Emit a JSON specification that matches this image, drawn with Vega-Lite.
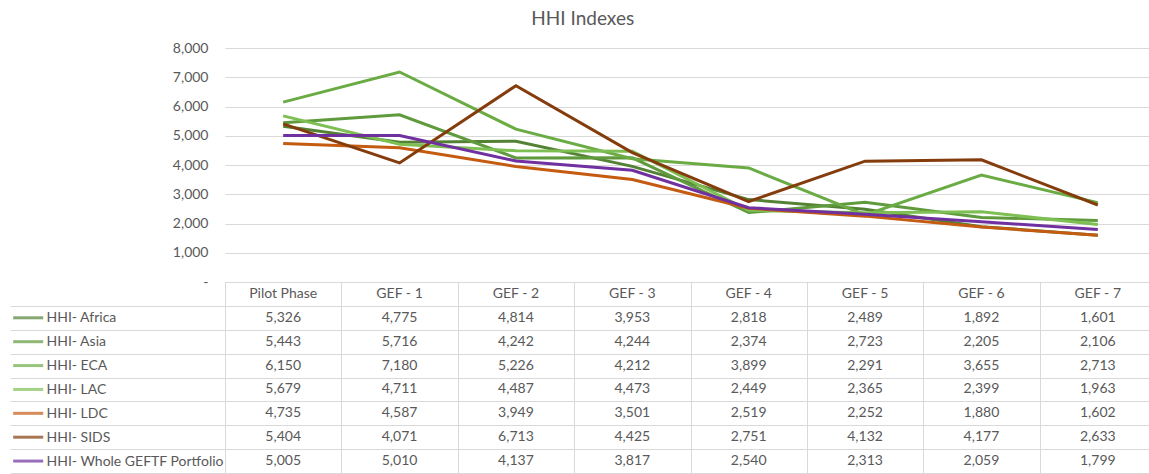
{
  "$schema": "https://vega.github.io/schema/vega-lite/v6.json",
  "padding": {"left": 9, "top": 10, "right": 0, "bottom": 0},
  "title": {"text": "HHI Indexes", "font": "Lato", "fontSize": 19, "fontWeight": "normal", "color": "#595959", "anchor": "middle", "frame": "bounds", "offset": 12},
  "config": {"view": {"stroke": null}, "font": "Lato"},
  "bounds": "flush",
  "spacing": 0,
  "resolve": {"scale": {"x": "independent", "y": "independent", "color": "shared"}},
  "datasets": {
    "hhi": [
      {"series": "HHI- Africa", "phase": "Pilot Phase", "value": 5326},
      {"series": "HHI- Africa", "phase": "GEF - 1", "value": 4775},
      {"series": "HHI- Africa", "phase": "GEF - 2", "value": 4814},
      {"series": "HHI- Africa", "phase": "GEF - 3", "value": 3953},
      {"series": "HHI- Africa", "phase": "GEF - 4", "value": 2818},
      {"series": "HHI- Africa", "phase": "GEF - 5", "value": 2489},
      {"series": "HHI- Africa", "phase": "GEF - 6", "value": 1892},
      {"series": "HHI- Africa", "phase": "GEF - 7", "value": 1601},
      {"series": "HHI- Asia", "phase": "Pilot Phase", "value": 5443},
      {"series": "HHI- Asia", "phase": "GEF - 1", "value": 5716},
      {"series": "HHI- Asia", "phase": "GEF - 2", "value": 4242},
      {"series": "HHI- Asia", "phase": "GEF - 3", "value": 4244},
      {"series": "HHI- Asia", "phase": "GEF - 4", "value": 2374},
      {"series": "HHI- Asia", "phase": "GEF - 5", "value": 2723},
      {"series": "HHI- Asia", "phase": "GEF - 6", "value": 2205},
      {"series": "HHI- Asia", "phase": "GEF - 7", "value": 2106},
      {"series": "HHI- ECA", "phase": "Pilot Phase", "value": 6150},
      {"series": "HHI- ECA", "phase": "GEF - 1", "value": 7180},
      {"series": "HHI- ECA", "phase": "GEF - 2", "value": 5226},
      {"series": "HHI- ECA", "phase": "GEF - 3", "value": 4212},
      {"series": "HHI- ECA", "phase": "GEF - 4", "value": 3899},
      {"series": "HHI- ECA", "phase": "GEF - 5", "value": 2291},
      {"series": "HHI- ECA", "phase": "GEF - 6", "value": 3655},
      {"series": "HHI- ECA", "phase": "GEF - 7", "value": 2713},
      {"series": "HHI- LAC", "phase": "Pilot Phase", "value": 5679},
      {"series": "HHI- LAC", "phase": "GEF - 1", "value": 4711},
      {"series": "HHI- LAC", "phase": "GEF - 2", "value": 4487},
      {"series": "HHI- LAC", "phase": "GEF - 3", "value": 4473},
      {"series": "HHI- LAC", "phase": "GEF - 4", "value": 2449},
      {"series": "HHI- LAC", "phase": "GEF - 5", "value": 2365},
      {"series": "HHI- LAC", "phase": "GEF - 6", "value": 2399},
      {"series": "HHI- LAC", "phase": "GEF - 7", "value": 1963},
      {"series": "HHI- LDC", "phase": "Pilot Phase", "value": 4735},
      {"series": "HHI- LDC", "phase": "GEF - 1", "value": 4587},
      {"series": "HHI- LDC", "phase": "GEF - 2", "value": 3949},
      {"series": "HHI- LDC", "phase": "GEF - 3", "value": 3501},
      {"series": "HHI- LDC", "phase": "GEF - 4", "value": 2519},
      {"series": "HHI- LDC", "phase": "GEF - 5", "value": 2252},
      {"series": "HHI- LDC", "phase": "GEF - 6", "value": 1880},
      {"series": "HHI- LDC", "phase": "GEF - 7", "value": 1602},
      {"series": "HHI- SIDS", "phase": "Pilot Phase", "value": 5404},
      {"series": "HHI- SIDS", "phase": "GEF - 1", "value": 4071},
      {"series": "HHI- SIDS", "phase": "GEF - 2", "value": 6713},
      {"series": "HHI- SIDS", "phase": "GEF - 3", "value": 4425},
      {"series": "HHI- SIDS", "phase": "GEF - 4", "value": 2751},
      {"series": "HHI- SIDS", "phase": "GEF - 5", "value": 4132},
      {"series": "HHI- SIDS", "phase": "GEF - 6", "value": 4177},
      {"series": "HHI- SIDS", "phase": "GEF - 7", "value": 2633},
      {"series": "HHI- Whole GEFTF Portfolio", "phase": "Pilot Phase", "value": 5005},
      {"series": "HHI- Whole GEFTF Portfolio", "phase": "GEF - 1", "value": 5010},
      {"series": "HHI- Whole GEFTF Portfolio", "phase": "GEF - 2", "value": 4137},
      {"series": "HHI- Whole GEFTF Portfolio", "phase": "GEF - 3", "value": 3817},
      {"series": "HHI- Whole GEFTF Portfolio", "phase": "GEF - 4", "value": 2540},
      {"series": "HHI- Whole GEFTF Portfolio", "phase": "GEF - 5", "value": 2313},
      {"series": "HHI- Whole GEFTF Portfolio", "phase": "GEF - 6", "value": 2059},
      {"series": "HHI- Whole GEFTF Portfolio", "phase": "GEF - 7", "value": 1799}
    ]
  },
  "vconcat": [
    {
      "width": 925,
      "height": 234,
      "data": {"name": "hhi"},
      "mark": {"type": "line", "strokeWidth": 3},
      "encoding": {
        "x": {
          "field": "phase", "type": "nominal",
          "scale": {"type": "point", "domain": ["Pilot Phase", "GEF - 1", "GEF - 2", "GEF - 3", "GEF - 4", "GEF - 5", "GEF - 6", "GEF - 7"], "range": [0, 931], "padding": 0.5},
          "axis": null
        },
        "y": {
          "field": "value", "type": "quantitative",
          "scale": {"domain": [0, 8000]},
          "axis": {"values": [0, 1000, 2000, 3000, 4000, 5000, 6000, 7000, 8000], "title": null, "domain": false, "ticks": false, "labelPadding": 17, "labelExpr": "datum.value == 0 ? '-' : format(datum.value, ',')", "labelFontSize": 14, "labelColor": "#595959", "gridColor": "#d9d9d9"}
        },
        "color": {
          "field": "series", "type": "nominal",
          "scale": {"domain": ["HHI- Africa", "HHI- Asia", "HHI- ECA", "HHI- LAC", "HHI- LDC", "HHI- SIDS", "HHI- Whole GEFTF Portfolio"], "range": ["#548235", "#5f9a3c", "#6aab44", "#7dbf52", "#c55a11", "#843c0c", "#7030a0"]},
          "legend": null
        }
      }
    },
    {
      "width": 925,
      "height": 191,
      "data": {"name": "hhi"},
      "encoding": {
        "x": {
          "field": "phase", "type": "nominal",
          "scale": {"type": "band", "domain": ["Pilot Phase", "GEF - 1", "GEF - 2", "GEF - 3", "GEF - 4", "GEF - 5", "GEF - 6", "GEF - 7"], "range": [0, 931], "paddingInner": 0, "paddingOuter": 0},
          "axis": {"title": null, "tickBand": "extent", "values": ["Pilot Phase", "GEF - 1", "GEF - 2", "GEF - 3", "GEF - 4", "GEF - 5", "GEF - 6"], "grid": true, "gridColor": "#d9d9d9", "labels": false, "ticks": false, "domain": false}
        },
        "y": {
          "field": "series", "type": "nominal",
          "scale": {"type": "band", "domain": ["hdr", "HHI- Africa", "HHI- Asia", "HHI- ECA", "HHI- LAC", "HHI- LDC", "HHI- SIDS", "HHI- Whole GEFTF Portfolio"], "paddingInner": 0, "paddingOuter": 0},
          "axis": {"title": null, "tickBand": "extent", "tickSize": 215, "tickColor": {"condition": {"test": "datum.extra", "value": "transparent"}, "value": "#d9d9d9"}, "grid": true, "gridColor": "#d9d9d9", "domain": true, "domainColor": "#d9d9d9", "labelAlign": "left", "labelPadding": -36, "labelExpr": "datum.value == 'hdr' ? '' : datum.value", "labelFontSize": 14, "labelColor": "#595959", "labelBaseline": "middle"}
        }
      },
      "layer": [
        {
          "mark": {"type": "text", "fontSize": 14, "color": "#595959"},
          "encoding": {"text": {"field": "value", "type": "quantitative", "format": ","}}
        },
        {
          "transform": [{"filter": "datum.series == 'HHI- Africa'"}],
          "mark": {"type": "text", "fontSize": 14, "color": "#595959"},
          "encoding": {"y": {"datum": "hdr"}, "text": {"field": "phase", "type": "nominal"}}
        },
        {
          "transform": [{"filter": "datum.phase == 'Pilot Phase'"}],
          "mark": {"type": "tick", "orient": "horizontal", "size": 30, "thickness": 3, "xOffset": -255},
          "encoding": {"color": {"field": "series", "type": "nominal", "legend": null}}
        }
      ]
    }
  ]
}
